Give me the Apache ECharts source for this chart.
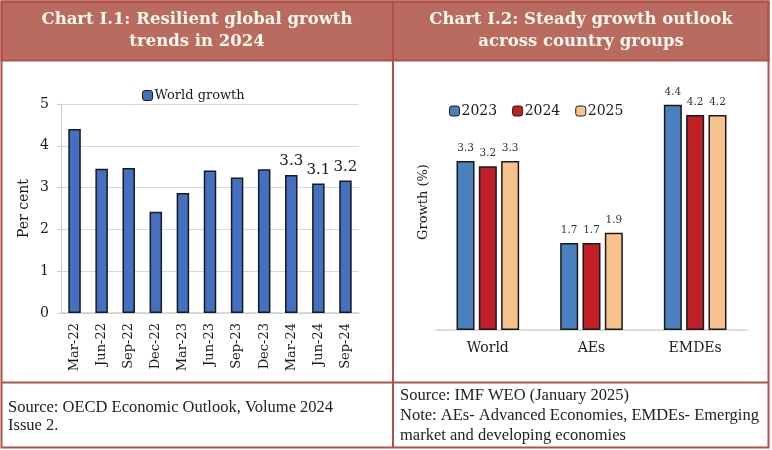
<!DOCTYPE html>
<html><head><meta charset="utf-8">
<script src="https://cdn.jsdelivr.net/npm/echarts@6/dist/echarts.min.js"></script>
<style>html,body{margin:0;padding:0;background:#fff}#c{width:772px;height:450px}</style>
</head><body><div id="c"></div>
<script>
// ---- Data ----
const quarters = ['Mar-22','Jun-22','Sep-22','Dec-22','Mar-23','Jun-23','Sep-23','Dec-23','Mar-24','Jun-24','Sep-24'];
const worldGrowth = [4.4, 3.45, 3.47, 2.42, 2.87, 3.41, 3.24, 3.44, 3.3, 3.1, 3.17];
const labeledQuarters = ['Mar-24','Jun-24','Sep-24'];
const leftTicks = [0, 1, 2, 3, 4, 5];

const groups = ['World', 'AEs', 'EMDEs'];
const years = ['2023', '2024', '2025'];
const growth2023 = [3.3, 1.7, 4.4];
const growth2024 = [3.2, 1.7, 4.2];
const growth2025 = [3.3, 1.9, 4.2];

const title1 = ['Chart I.1: Resilient global growth', 'trends in 2024'];
const title2 = ['Chart I.2: Steady growth outlook', 'across country groups'];
const source1 = ['Source: OECD Economic Outlook, Volume 2024', 'Issue 2.'];
const source2 = ['Source: IMF WEO (January 2025)', 'Note: AEs- Advanced Economies, EMDEs- Emerging', 'market and developing economies'];

// ---- Styles ----
const SERIF = '"DejaVu Serif", Georgia, serif';
const TIMES = '"Liberation Serif", "Times New Roman", serif';
const FRAME = '#b0504a';
const HEAD = '#b86b5e';
const yearColors = ['#4a7fc0', '#c01f28', '#f8c28e'];

const chart = echarts.init(document.getElementById('c'), null, {renderer: 'canvas'});

const graphics = [
  {type: 'rect', shape: {x: 1.5, y: 1.5, width: 767, height: 59}, style: {fill: HEAD, stroke: FRAME, lineWidth: 2}, z: 0},
  {type: 'rect', shape: {x: 1.5, y: 1.5, width: 767, height: 446}, style: {fill: 'none', stroke: FRAME, lineWidth: 2}, z: 10},
  {type: 'line', shape: {x1: 393, y1: 1.5, x2: 393, y2: 447.5}, style: {stroke: FRAME, lineWidth: 2}, z: 10},
  {type: 'line', shape: {x1: 1.5, y1: 382.5, x2: 768.5, y2: 382.5}, style: {stroke: FRAME, lineWidth: 2}, z: 10}
];
title1.forEach((t, i) => graphics.push({type: 'text', x: 197, y: 20 + i * 22, style: {text: t, fill: '#fff8ee', font: 'bold 16.5px ' + SERIF, align: 'center', verticalAlign: 'middle'}, z: 11}));
title2.forEach((t, i) => graphics.push({type: 'text', x: 581, y: 20 + i * 22, style: {text: t, fill: '#fff8ee', font: 'bold 16.5px ' + SERIF, align: 'center', verticalAlign: 'middle'}, z: 11}));
source1.forEach((t, i) => graphics.push({type: 'text', x: 8, y: 408 + i * 18, style: {text: t, fill: '#222', font: '16.5px ' + TIMES, align: 'left', verticalAlign: 'middle'}, z: 11}));
source2.forEach((t, i) => graphics.push({type: 'text', x: 400, y: 396 + i * 20, style: {text: t, fill: '#222', font: '16.5px ' + TIMES, align: 'left', verticalAlign: 'middle'}, z: 11}));

const barBorder = {borderColor: '#1a1a1a', borderWidth: 1.5};

chart.setOption({
  animation: false,
  textStyle: {fontFamily: SERIF},
  graphic: graphics,
  legend: [
    {data: ['World growth'], left: 137, top: 84, itemWidth: 10, itemHeight: 10, itemGap: 10,
     textStyle: {fontFamily: SERIF, fontSize: 13, color: '#1a1a1a', padding: [0, 0, 0, -3]},
     itemStyle: {borderColor: '#1a1a1a', borderWidth: 1}},
    {data: years, left: 444, top: 99, itemWidth: 10, itemHeight: 10, itemGap: 15,
     textStyle: {fontFamily: SERIF, fontSize: 14, color: '#1a1a1a', padding: [0, 0, 0, -3]},
     itemStyle: {borderColor: '#1a1a1a', borderWidth: 1}}
  ],
  grid: [
    {left: 61, top: 104, width: 298, height: 209},
    {left: 436, top: 74, width: 311, height: 256}
  ],
  xAxis: [
    {type: 'category', gridIndex: 0, data: quarters,
     axisLine: {lineStyle: {color: '#d0d0d0', width: 1.5}}, axisTick: {show: false},
     axisLabel: {rotate: 90, fontSize: 13, color: '#1a1a1a', margin: 10, fontFamily: SERIF}},
    {type: 'category', gridIndex: 1, data: groups,
     axisLine: {lineStyle: {color: '#d0d0d0', width: 1.5}}, axisTick: {show: false},
     axisLabel: {fontSize: 14, color: '#1a1a1a', margin: 11, fontFamily: SERIF}}
  ],
  yAxis: [
    {type: 'value', gridIndex: 0, min: leftTicks[0], max: leftTicks[leftTicks.length - 1], interval: 1,
     name: 'Per cent', nameLocation: 'middle', nameGap: 30, nameRotate: 90,
     nameTextStyle: {fontSize: 14, color: '#1a1a1a', fontFamily: SERIF},
     axisLine: {show: true, lineStyle: {color: '#d0d0d0'}},
     axisTick: {show: true, length: 4, lineStyle: {color: '#d0d0d0'}},
     splitLine: {lineStyle: {color: '#d9d9d9'}},
     axisLabel: {fontSize: 14, color: '#1a1a1a', margin: 12, fontFamily: SERIF}},
    {type: 'value', gridIndex: 1, min: 0, max: 5,
     name: 'Growth (%)', nameLocation: 'middle', nameGap: 6, nameRotate: 90,
     nameTextStyle: {fontSize: 13, color: '#1a1a1a', fontFamily: SERIF},
     axisLine: {show: false}, axisTick: {show: false}, splitLine: {show: false}, axisLabel: {show: false}}
  ],
  series: [
    {name: 'World growth', type: 'bar', xAxisIndex: 0, yAxisIndex: 0, barWidth: 12.5,
     itemStyle: Object.assign({color: '#4470c2'}, barBorder),
     data: worldGrowth.map((v, i) => ({value: v, label: {show: labeledQuarters.includes(quarters[i])}})),
     label: {position: 'top', distance: 6, fontSize: 15, color: '#1a1a1a', fontFamily: SERIF,
             formatter: p => p.value.toFixed(1)}},
    ...[growth2023, growth2024, growth2025].map((arr, k) => ({
      name: years[k], type: 'bar', xAxisIndex: 1, yAxisIndex: 1, barWidth: 18, barGap: '24%',
      itemStyle: Object.assign({color: yearColors[k]}, barBorder),
      data: arr,
      label: {show: true, position: 'top', distance: 7, fontSize: 10.5, color: '#333', fontFamily: SERIF,
              formatter: p => p.value.toFixed(1)}
    }))
  ]
});
</script></body></html>
